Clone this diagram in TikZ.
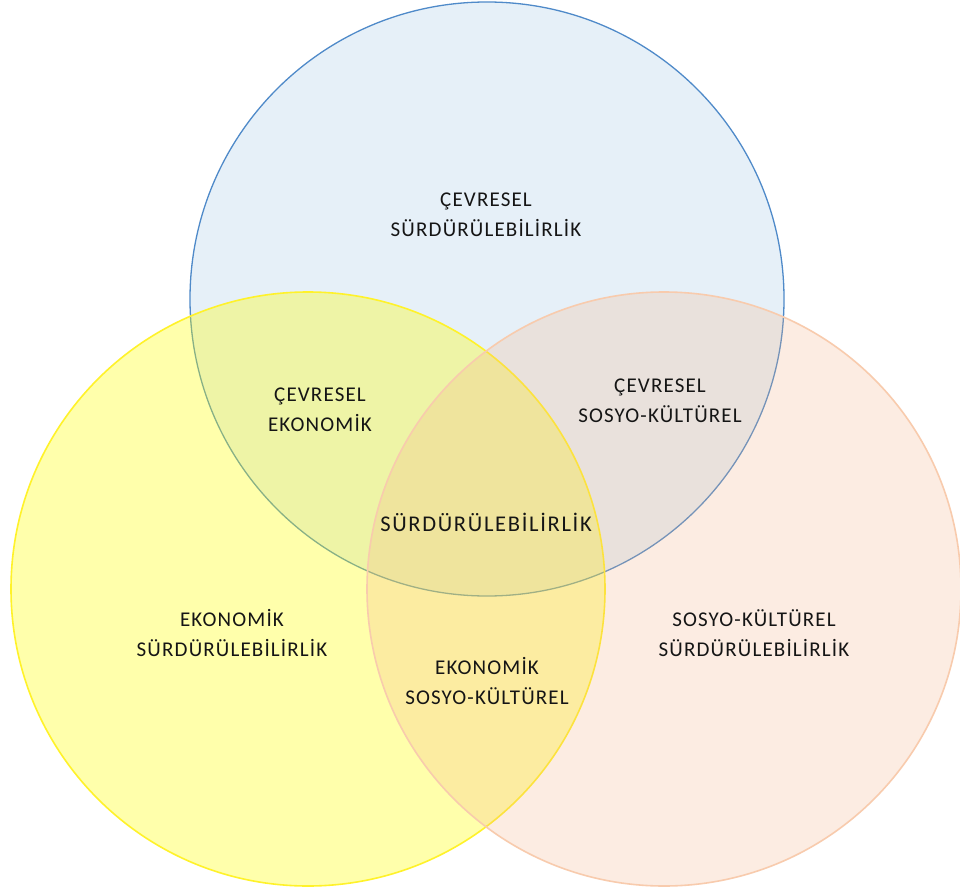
\documentclass[tikz,border=0pt]{standalone}
\usepackage{fontspec}
\setmainfont{Carlito}
\newfontfamily\spacedfont[LetterSpace=5.5]{Carlito}
\newfontfamily\bigspacedfont[LetterSpace=7.5]{Carlito}
\definecolor{bluefill}{HTML}{5B9BD5}
\definecolor{bluedraw}{HTML}{4F8AC9}
\definecolor{yelfill}{HTML}{FFFF00}
\definecolor{yeldraw}{HTML}{FFF22A}
\definecolor{orfill}{HTML}{F4B183}
\definecolor{ordraw}{HTML}{F8CBAD}
\definecolor{txt}{HTML}{151515}
\begin{document}
\begin{tikzpicture}[x=1pt,y=-1pt,
  set/.style={circle,minimum size=594pt,inner sep=0pt},
  lbl/.style={align=center,text=txt,font=\spacedfont\fontsize{21}{29.5}\selectfont},
  biglbl/.style={align=center,text=txt,font=\bigspacedfont\fontsize{22.5}{29}\selectfont}]
\useasboundingbox (0,0) rectangle (960,893);
\fill[white] (0,0) rectangle (960,893);
\node[set,draw=bluedraw,line width=1.3pt,fill=bluefill,fill opacity=0.15] (env) at (487,299) {};
\node[set,draw=yeldraw,line width=1.6pt,fill=yelfill,fill opacity=0.33] (eco) at (308,589) {};
\node[set,draw=ordraw,line width=1.6pt,fill=orfill,fill opacity=0.23] (soc) at (664,589) {};
\node[lbl] (t1) at (486,215) {ÇEVRESEL\\SÜRDÜRÜLEBİLİRLİK};
\node[lbl] (t2) at (320,410) {ÇEVRESEL\\EKONOMİK};
\node[lbl] (t3) at (660,401) {ÇEVRESEL\\SOSYO-KÜLTÜREL};
\node[biglbl] (t4) at (486,522) {SÜRDÜRÜLEBİLİRLİK};
\node[lbl] (t5) at (232,633) {EKONOMİK\\SÜRDÜRÜLEBİLİRLİK};
\node[lbl] (t6) at (487,681) {EKONOMİK\\SOSYO-KÜLTÜREL};
\node[lbl] (t7) at (754,633) {SOSYO-KÜLTÜREL\\SÜRDÜRÜLEBİLİRLİK};
\end{tikzpicture}
\end{document}
